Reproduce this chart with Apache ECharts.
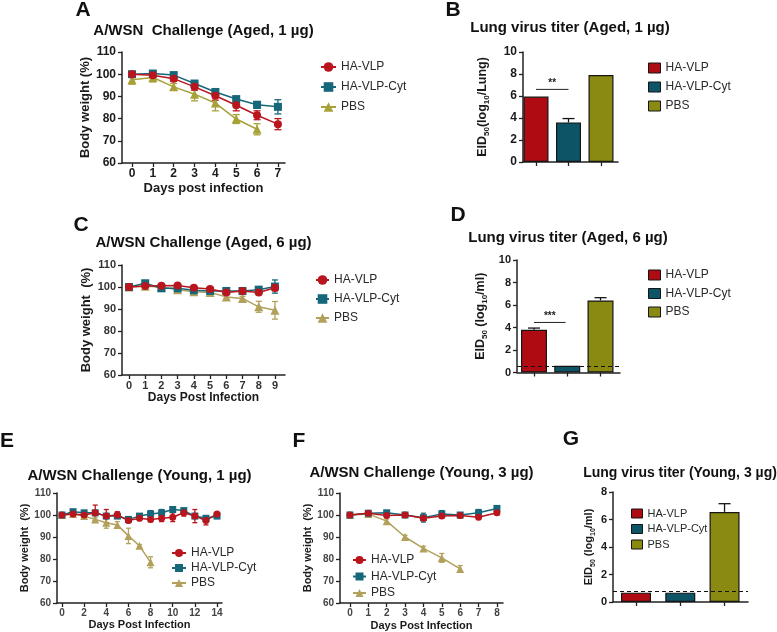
<!DOCTYPE html>
<html><head><meta charset="utf-8">
<script src="https://cdn.jsdelivr.net/npm/echarts@6/dist/echarts.min.js"></script>
<style>html,body{margin:0;padding:0;background:#fff}#c{width:777px;height:632px}</style>
</head><body><div id="c"></div>
<script>
// ================= DATA =================
const groups = ['HA-VLP', 'HA-VLP-Cyt', 'PBS'];

// A: A/WSN challenge (Aged, 1 µg) – body weight %
const daysA = [0, 1, 2, 3, 4, 5, 6, 7];
const vlpA = [100, 99.5, 98, 94.3, 90.3, 86, 81.5, 77.5];
const vlpAErr = [0.8, 1, 1.2, 1.5, 2, 2.5, 2, 2.5];
const cytA = [100, 100.3, 99.6, 95.8, 92, 88.8, 86.2, 85.3];
const cytAErr = [1, 1, 1, 1, 1, 1, 1.5, 3.2];
const pbsA = [97.5, 98.5, 94.3, 91, 87, 79.8, 75.2];
const pbsAErr = [2, 2, 1.5, 3, 3.5, 2, 2.5];

// B: lung virus titer (Aged, 1 µg)
const titerB = [5.95, 3.6, 7.9];
const titerBErr = [0, 0.35, 0];
const sigB = [[0, 1, 6.6]];
const starsB = '**';

// C: A/WSN challenge (Aged, 6 µg)
const daysC = [0, 1, 2, 3, 4, 5, 6, 7, 8, 9];
const vlpC = [100, 100.5, 100.6, 100.7, 99.7, 99.1, 97.5, 98.2, 97.5, 99.7];
const vlpCErr = [0.5, 0.8, 0.8, 0.8, 0.8, 0.8, 1, 1, 1, 1.5];
const cytC = [100, 101.7, 99.4, 99.4, 98.5, 98.2, 98.2, 98.2, 98.8, 100.2];
const cytCErr = [0.5, 0.8, 0.8, 0.8, 0.8, 0.8, 0.8, 0.8, 0.8, 3];
const pbsC = [100, 100.3, 100, 98.8, 97.8, 97.5, 95.5, 94.8, 91, 89.4];
const pbsCErr = [0.5, 0.5, 0.5, 0.8, 0.8, 0.8, 1, 1, 2.5, 4];

// D: lung virus titer (Aged, 6 µg)
const titerD = [3.8, 0.6, 6.4];
const titerDErr = [0.15, 0, 0.25];
const lodD = 0.6;
const sigD = [[0, 0.95, 4.45]];
const starsD = '***';

// E: A/WSN challenge (Young, 1 µg)
const daysE = [0, 1, 2, 3, 4, 5, 6, 7, 8, 9, 10, 11, 12, 13, 14];
const vlpE = [100, 100.5, 100, 101, 99.5, 100, 97.5, 98.5, 98, 98.5, 99, 101, 99.5, 97.5, 100.5];
const vlpEErr = [0.5, 0.8, 0.8, 3.5, 3, 1.5, 1, 1, 1, 1.5, 2, 1.5, 3, 2, 0.5];
const cytE = [100, 101.5, 101, 101, 99.5, 99.5, 98, 99.5, 100.5, 101, 102.5, 102, 99.5, 98.5, 99.5];
const cytEErr = [0.5, 0.8, 0.8, 1, 1, 1, 1, 1, 1.5, 1.5, 1, 1, 1, 1, 1];
const pbsE = [100, 100.5, 99.5, 98, 96.5, 95.5, 90.5, 86, 78.5];
const pbsEErr = [0.3, 0.5, 0.5, 1, 2.5, 1.5, 3.5, 0.5, 2.5];

// F: A/WSN challenge (Young, 3 µg)
const daysF = [0, 1, 2, 3, 4, 5, 6, 7, 8];
const vlpF = [100, 100.8, 99.8, 100, 98.5, 99.5, 99.8, 99, 101];
const vlpFErr = [0.5, 0.8, 0.8, 0.8, 1, 1, 1, 1, 0.8];
const cytF = [100, 100.8, 101, 100, 98.8, 100.5, 100, 101, 103];
const cytFErr = [0.5, 0.8, 1, 0.8, 2, 1.5, 1, 1.5, 1];
const pbsF = [100, 100.5, 97.2, 90, 84.8, 80.5, 75.5];
const pbsFErr = [0.3, 0.5, 1, 0.8, 1, 2, 1.5];

// G: lung virus titer (Young, 3 µg)
const titerG = [0.68, 0.68, 6.55];
const titerGErr = [0, 0, 0.6];
const lodG = 0.75;

// ================= STYLE / LAYOUT =================
const FONT = '"Liberation Sans", Arial, Helvetica, sans-serif';
const COL = {red: '#BA141C', teal: '#17677A', oliveA: '#A8A137', olive: '#B1A15C',
  redBar: '#AE0C12', tealBar: '#0D5467', oliveBar: '#8A8912', ink: '#1a1a1a'};

const grids = [
  {left: 122, top: 52, width: 163, height: 111},
  {left: 523, top: 52, width: 95, height: 110},
  {left: 122, top: 265, width: 163, height: 110},
  {left: 517, top: 260, width: 103, height: 112.5},
  {left: 57, top: 493, width: 165, height: 110},
  {left: 340, top: 493, width: 163, height: 110},
  {left: 613, top: 492, width: 135, height: 110}
].map(g => Object.assign({outerBoundsMode: 'none', containLabel: false}, g));

function errRender(cap, upperOnly) {
  return function (params, api) {
    const x = api.value(0), lo = api.value(1), hi = api.value(2);
    if (hi - lo <= 0) return null;
    const p1 = api.coord([x, lo]), p2 = api.coord([x, hi]);
    const st = {stroke: api.visual('color'), lineWidth: 1.3};
    const ch = [
      {type: 'line', shape: {x1: p1[0], y1: p1[1], x2: p2[0], y2: p2[1]}, style: st},
      {type: 'line', shape: {x1: p2[0] - cap / 2, y1: p2[1], x2: p2[0] + cap / 2, y2: p2[1]}, style: st}
    ];
    if (!upperOnly) ch.push({type: 'line', shape: {x1: p1[0] - cap / 2, y1: p1[1], x2: p1[0] + cap / 2, y2: p1[1]}, style: st});
    return {type: 'group', children: ch};
  };
}
function sigRender(stars, fs) {
  return function (params, api) {
    const a = api.coord([api.value(0), api.value(2)]), b = api.coord([api.value(1), api.value(2)]);
    return {type: 'group', children: [
      {type: 'line', shape: {x1: a[0], y1: a[1], x2: b[0], y2: b[1]}, style: {stroke: '#222', lineWidth: 1}},
      {type: 'text', x: (a[0] + b[0]) / 2, y: a[1] - 1, style: {text: stars, font: 'bold ' + fs + 'px ' + FONT, fill: '#222', align: 'center', verticalAlign: 'bottom'}}
    ]};
  };
}
function axisBase(fs, color) {
  return {
    axisLine: {show: true, onZero: false, lineStyle: {color: '#222', width: 1.5}},
    axisTick: {show: true, length: 4, lineStyle: {color: '#222', width: 1.3}},
    splitLine: {show: false},
    axisLabel: {fontFamily: FONT, fontWeight: 'bold', fontSize: fs, color: color, margin: 6}
  };
}

const linePanels = [
  {k: 'A', gi: 0, days: daysA, v: vlpA, ve: vlpAErr, c: cytA, ce: cytAErr, p: pbsA, pe: pbsAErr,
   xmin: -0.48, xmax: 7.34, ticks: daysA, fs: 12, lc: '#1a1a1a', xName: 'Days post infection', xfs: 13, xGap: 19,
   yName: 'Body weight (%)', yfs: 13, yGap: 28, sym: 8, cap: 7, olive: COL.oliveA,
   lg: {left: 315, top: 56, gap: 8, w: 15, h: 12, fs: 12}},
  {k: 'C', gi: 2, days: daysC, v: vlpC, ve: vlpCErr, c: cytC, ce: cytCErr, p: pbsC, pe: pbsCErr,
   xmin: -0.43, xmax: 9.62, ticks: daysC, fs: 11, lc: '#333', xName: 'Days Post Infection', xfs: 12, xGap: 17,
   yName: 'Body weight  (%)', yfs: 13, yGap: 29, sym: 8, cap: 6, olive: COL.olive,
   lg: {left: 310, top: 269, gap: 7, w: 13, h: 12, fs: 12}},
  {k: 'E', gi: 4, days: daysE, v: vlpE, ve: vlpEErr, c: cytE, ce: cytEErr, p: pbsE, pe: pbsEErr,
   xmin: -0.45, xmax: 14.45, ticks: [0, 2, 4, 6, 8, 10, 12, 14], fs: 10, lc: '#444', xName: 'Days Post Infection', xfs: 11, xGap: 16,
   yName: 'Body weight  (%)', yfs: 11, yGap: 23, sym: 7, cap: 5, olive: COL.olive,
   lg: {left: 166, top: 542, gap: 3, w: 14, h: 10, fs: 12}},
  {k: 'F', gi: 5, days: daysF, v: vlpF, ve: vlpFErr, c: cytF, ce: cytFErr, p: pbsF, pe: pbsFErr,
   xmin: -0.54, xmax: 8.33, ticks: daysF, fs: 10, lc: '#444', xName: 'Days Post Infection', xfs: 11, xGap: 17,
   yName: 'Body weight  (%)', yfs: 11, yGap: 22, sym: 7, cap: 5, olive: COL.olive,
   lg: {left: 347, top: 549, gap: 4.5, w: 13, h: 10, fs: 12}}
];

const barPanels = [
  {k: 'B', gi: 1, vals: titerB, errs: titerBErr, lod: null, sig: sigB, stars: starsB, ymax: 10,
   xmin: -0.4, xmax: 2.523, bw: 25, fs: 12, unit: 'Lung', sep: '', nfs: 12.5, yGap: 32,
   lg: {left: 643, top: 57, gap: 7, w: 12, h: 10, fs: 12}},
  {k: 'D', gi: 3, vals: titerD, errs: titerDErr, lod: lodD, sig: sigD, stars: starsD, ymax: 10,
   xmin: -0.511, xmax: 2.586, bw: 26, fs: 11, unit: 'ml', sep: ' ', nfs: 12.5, yGap: 28,
   lg: {left: 643, top: 264, gap: 6.5, w: 12, h: 10, fs: 12}},
  {k: 'G', gi: 6, vals: titerG, errs: titerGErr, lod: lodG, sig: null, stars: '', ymax: 8,
   xmin: -0.52, xmax: 2.53, bw: 30, fs: 11, unit: 'ml', sep: ' ', nfs: 11, yGap: 16,
   lg: {left: 626, top: 503, gap: 4.5, w: 11, h: 9, fs: 11}}
];

const xAxes = [], yAxes = [], series = [], legends = [];
for (let i = 0; i < grids.length; i++) { xAxes.push(null); yAxes.push(null); }

linePanels.forEach(P => {
  const xa = axisBase(P.fs, P.lc);
  xAxes[P.gi] = Object.assign(xa, {type: 'value', gridIndex: P.gi, min: P.xmin, max: P.xmax,
    name: P.xName, nameLocation: 'middle', nameGap: P.xGap,
    nameTextStyle: {fontFamily: FONT, fontWeight: 'bold', fontSize: P.xfs, color: '#1a1a1a'}});
  xa.axisTick.customValues = P.ticks; xa.axisLabel.customValues = P.ticks; xa.axisLabel.margin = 5;
  const ya = axisBase(P.fs, P.lc);
  yAxes[P.gi] = Object.assign(ya, {type: 'value', gridIndex: P.gi, min: 60, max: 110, interval: 10,
    name: P.yName, nameLocation: 'middle', nameGap: P.yGap,
    nameTextStyle: {fontFamily: FONT, fontWeight: 'bold', fontSize: P.yfs, color: '#1a1a1a'}});
  const defs = [
    {n: 'PBS', d: P.p, e: P.pe, col: P.olive, s: 'triangle'},
    {n: 'HA-VLP-Cyt', d: P.c, e: P.ce, col: COL.teal, s: 'rect'},
    {n: 'HA-VLP', d: P.v, e: P.ve, col: COL.red, s: 'circle'}
  ];
  defs.forEach(S => {
    series.push({type: 'custom', xAxisIndex: P.gi, yAxisIndex: P.gi, silent: true, z: 2,
      encode: {x: 0, y: [1, 2]},
      data: S.d.map((v, i) => [P.days[i], v - S.e[i], v + S.e[i]]),
      renderItem: errRender(P.cap, false), itemStyle: {color: S.col}});
    series.push({type: 'line', name: P.k + '|' + S.n, xAxisIndex: P.gi, yAxisIndex: P.gi, z: 3,
      data: S.d.map((v, i) => [P.days[i], v]), symbol: S.s,
      symbolSize: S.s === 'triangle' ? P.sym + 1 : P.sym,
      color: S.col, itemStyle: {color: S.col}, lineStyle: {color: S.col, width: 1.5}});
  });
  legends.push({orient: 'vertical', left: P.lg.left, top: P.lg.top, itemGap: P.lg.gap,
    itemWidth: P.lg.w, itemHeight: P.lg.h, selectedMode: false,
    data: groups.map(g => P.k + '|' + g), formatter: n => n.split('|')[1],
    textStyle: {fontFamily: FONT, fontSize: P.lg.fs, color: '#2a2a2a', padding: [0, 0, 0, 0]}});
});

barPanels.forEach(P => {
  const xa = axisBase(P.fs, '#1a1a1a');
  xAxes[P.gi] = Object.assign(xa, {type: 'value', gridIndex: P.gi, min: P.xmin, max: P.xmax});
  xa.axisTick.customValues = [0, 1, 2]; xa.axisLabel.show = false;
  const ya = axisBase(P.fs, '#1a1a1a');
  const rb = {fontFamily: FONT, fontWeight: 'bold', fontSize: P.nfs, color: '#1a1a1a', lineHeight: 16, verticalAlign: 'middle'};
  const rs = {fontFamily: FONT, fontWeight: 'bold', fontSize: Math.round(P.nfs * 0.62), color: '#1a1a1a', lineHeight: 8, verticalAlign: 'bottom'};
  yAxes[P.gi] = Object.assign(ya, {type: 'value', gridIndex: P.gi, min: 0, max: P.ymax, interval: 2,
    name: '{b|EID}{s|50}{b|' + P.sep + '(log}{s|10}{b|/' + P.unit + ')}', nameLocation: 'middle', nameGap: P.yGap,
    nameTextStyle: {rich: {b: rb, s: rs}}});
  const cols = [COL.redBar, COL.tealBar, COL.oliveBar];
  groups.forEach((g, i) => {
    const s = {type: 'bar', name: P.k + '|' + g, xAxisIndex: P.gi, yAxisIndex: P.gi, barWidth: P.bw, barGap: '-100%',
      data: [[i, P.vals[i]]], itemStyle: {color: cols[i], borderColor: '#151515', borderWidth: 1.2}, z: 2};
    if (i === 0 && P.lod != null) {
      s.markLine = {silent: true, symbol: 'none', label: {show: false}, animation: false,
        lineStyle: {type: [4, 3], color: '#111', width: 1.2}, data: [{yAxis: P.lod}]};
    }
    series.push(s);
  });
  series.push({type: 'custom', xAxisIndex: P.gi, yAxisIndex: P.gi, silent: true, z: 3,
    encode: {x: 0, y: [1, 2]},
    data: P.vals.map((v, i) => [i, v, v + P.errs[i]]),
    renderItem: errRender(12, true), itemStyle: {color: '#151515'}});
  if (P.sig) {
    series.push({type: 'custom', xAxisIndex: P.gi, yAxisIndex: P.gi, silent: true, z: 3,
      encode: {x: [0, 1], y: 2}, data: P.sig, renderItem: sigRender(P.stars, 10)});
  }
  legends.push({orient: 'vertical', left: P.lg.left, top: P.lg.top, itemGap: P.lg.gap,
    itemWidth: P.lg.w, itemHeight: P.lg.h, icon: 'rect', selectedMode: false,
    itemStyle: {borderColor: '#151515', borderWidth: 1},
    data: groups.map(g => P.k + '|' + g), formatter: n => n.split('|')[1],
    textStyle: {fontFamily: FONT, fontSize: P.lg.fs, color: '#2a2a2a'}});
});

// panel letters and titles (text)
const panelLetters = [['A', 83, 10], ['B', 453, 10], ['C', 81, 225], ['D', 458, 215], ['E', 7, 441], ['F', 299, 441], ['G', 571, 439]];
const panelTitles = [
  ['A/WSN  Challenge (Aged, 1 µg)', 203.5, 31, 15],
  ['Lung virus titer (Aged, 1 µg)', 570, 28, 15],
  ['A/WSN Challenge (Aged, 6 µg)', 203.5, 243, 15],
  ['Lung virus titer (Aged, 6 µg)', 568, 238, 15],
  ['A/WSN Challenge (Young, 1 µg)', 139.5, 476, 15],
  ['A/WSN Challenge (Young, 3 µg)', 421.5, 473, 15],
  ['Lung virus titer (Young, 3 µg)', 680, 473, 14]
];
const graphic = [];
panelLetters.forEach(L => graphic.push({type: 'text', x: L[1], y: L[2], silent: true,
  style: {text: L[0], font: 'bold 21px ' + FONT, fill: '#111', align: 'center', verticalAlign: 'middle'}}));
panelTitles.forEach(T => graphic.push({type: 'text', x: T[1], y: T[2], silent: true,
  style: {text: T[0], font: 'bold ' + T[3] + 'px ' + FONT, fill: '#111', align: 'center', verticalAlign: 'middle'}}));

const chart = echarts.init(document.getElementById('c'), null, {renderer: 'canvas', width: 777, height: 632});
chart.setOption({
  animation: false,
  backgroundColor: '#ffffff',
  textStyle: {fontFamily: FONT},
  grid: grids, xAxis: xAxes, yAxis: yAxes, series: series, legend: legends, graphic: graphic
});
</script>
</body></html>
